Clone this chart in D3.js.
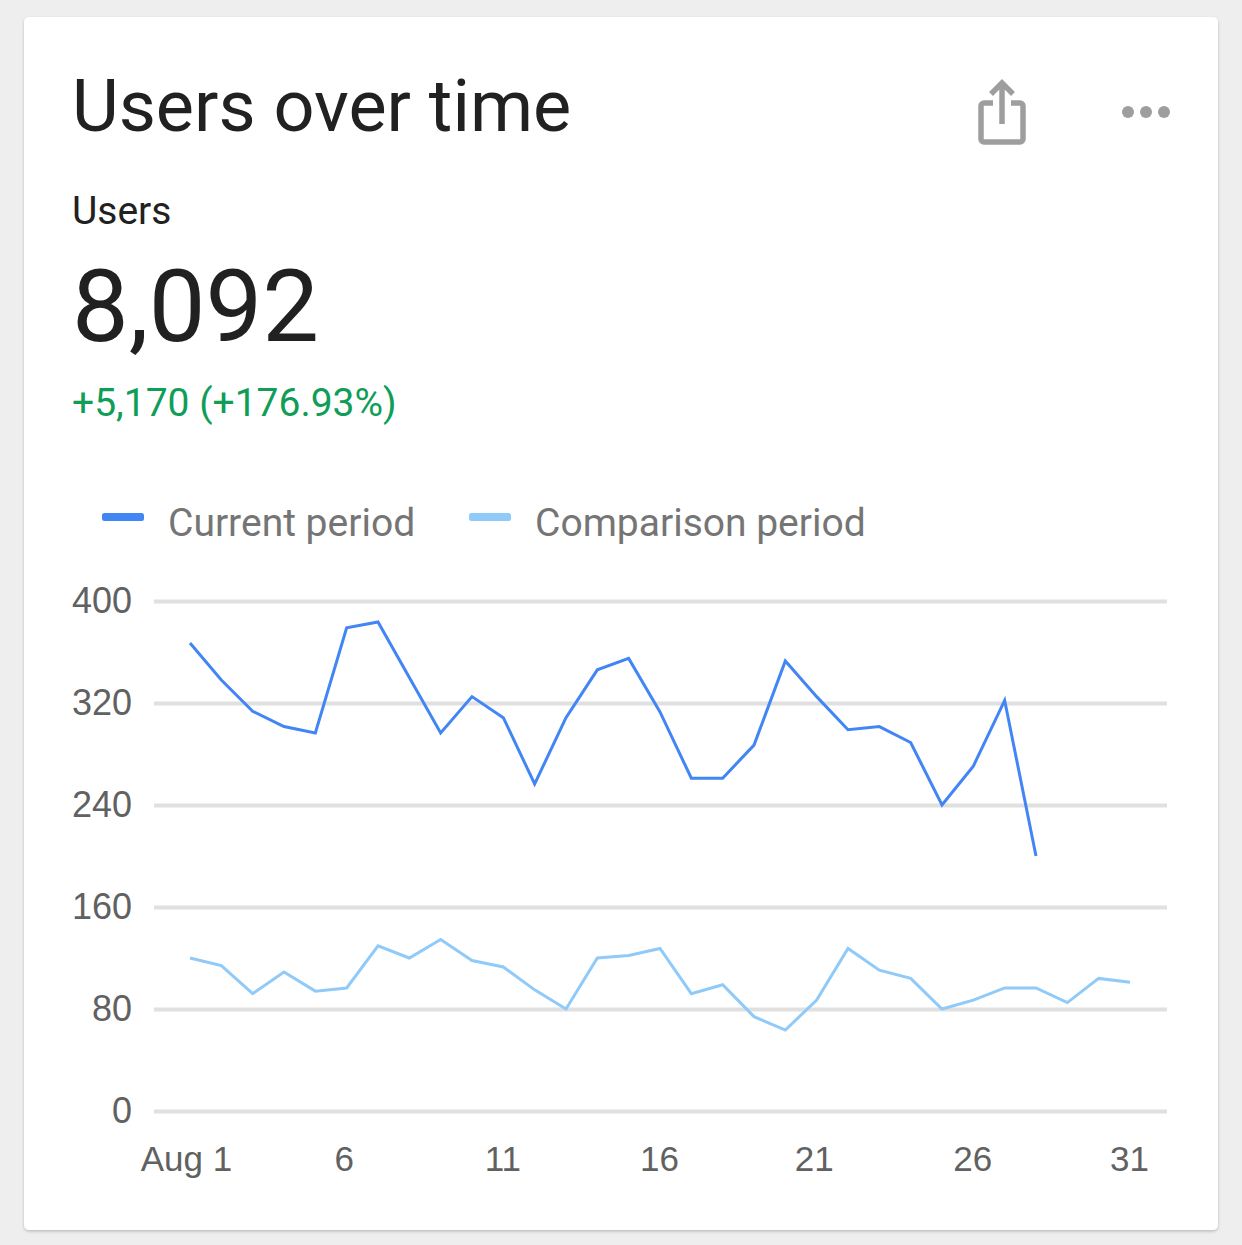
<!DOCTYPE html>
<html>
<head>
<meta charset="utf-8">
<script src="https://cdnjs.cloudflare.com/ajax/libs/d3/7.8.5/d3.min.js"></script>
<style>
  html, body { margin: 0; padding: 0; background: #eeeeee; }
  svg { display: block; font-family: Roboto, sans-serif; }
  .grid line { stroke: #e0e0e0; stroke-width: 4; }
  .tick text { fill: #616161; font-size: 36px; }
  .xaxis .tick text { font-size: 35px; }
  .domain { display: none; }
</style>
</head>
<body>
<div id="chart"></div>
<script>
var days = d3.range(1, 32);
var current = [367, 338, 313.5, 301.5, 296.5, 379, 383.5, 340, 296.5, 325, 308.5, 256.5, 308.5, 346, 355, 313, 261, 261, 287, 353, 325, 299, 301.5, 289, 240, 270.5, 322, 200];
var comparison = [120, 114, 92, 109, 94, 96.5, 129.5, 120, 134.5, 118, 113, 95, 80, 120, 122, 127.5, 92, 99, 74, 63.5, 87, 127.5, 110.5, 104, 80, 87, 96.5, 96.5, 85, 104, 101];
var yTicks = [0, 80, 160, 240, 320, 400];
var xTicks = [1, 6, 11, 16, 21, 26, 31];
var legendNames = ["Current period", "Comparison period"];
var colors = ["#4285f4", "#90caf9"];

var width = 1242, height = 1245;

var svg = d3.select("#chart").append("svg")
  .attr("width", width)
  .attr("height", height);

// card with soft shadow
var defs = svg.append("defs");
var shadow = defs.append("filter").attr("id", "shadow")
  .attr("x", "-5%").attr("y", "-5%").attr("width", "110%").attr("height", "110%");
shadow.append("feDropShadow")
  .attr("dx", 0).attr("dy", 1.5).attr("stdDeviation", 1.5)
  .attr("flood-color", "#000").attr("flood-opacity", 0.22);

svg.append("rect")
  .attr("x", 24).attr("y", 17)
  .attr("width", 1194).attr("height", 1213)
  .attr("rx", 5)
  .attr("fill", "#fff")
  .attr("filter", "url(#shadow)");

// header text
svg.append("text").attr("x", 72).attr("y", 131)
  .attr("font-size", 72).attr("fill", "#212121").text("Users over time");
svg.append("text").attr("x", 72).attr("y", 224)
  .attr("font-size", 39).attr("fill", "#212121").text("Users");
svg.append("text").attr("x", 72).attr("y", 341)
  .attr("font-size", 101).attr("fill", "#212121").text("8,092");
svg.append("text").attr("x", 72).attr("y", 416)
  .attr("font-size", 39).attr("fill", "#0f9d58").text("+5,170 (+176.93%)");

// share icon
var icon = svg.append("g").attr("fill", "none").attr("stroke", "#9e9e9e").attr("stroke-width", 5.5);
icon.append("path").attr("d", "M993 103H984a3 3 0 0 0 -3 3V139a3 3 0 0 0 3 3H1020a3 3 0 0 0 3 -3V106a3 3 0 0 0 -3 -3H1011");
icon.append("path").attr("d", "M1002 124V84M991 94L1002 83L1013 94");

// more icon
svg.append("g").attr("fill", "#9e9e9e")
  .selectAll("circle").data([1128, 1146, 1164]).enter().append("circle")
  .attr("cx", function(d) { return d; })
  .attr("cy", 112)
  .attr("r", 6);

// legend
var legendX = [102, 469];
var legend = svg.selectAll("g.legend")
  .data(legendNames)
  .enter().append("g")
  .attr("class", "legend")
  .attr("transform", function(d, i) { return "translate(" + legendX[i] + ",517)"; });
legend.append("rect")
  .attr("y", -4).attr("width", 42).attr("height", 8).attr("rx", 2.5)
  .attr("fill", function(d, i) { return colors[i]; });
legend.append("text")
  .attr("x", 66).attr("y", 19)
  .attr("font-size", 39).attr("fill", "#757575")
  .text(function(d) { return d; });

// scales
var x = d3.scaleLinear().domain([1, 31]).range([190, 1130]);
var y = d3.scaleLinear().domain([0, 400]).range([1111, 601]);

// y axis with gridlines
svg.append("g")
  .attr("class", "grid")
  .attr("transform", "translate(154,0)")
  .call(d3.axisLeft(y).tickValues(yTicks).tickSize(-1013).tickPadding(22).tickFormat(d3.format("d")));

// x axis, labels sit slightly left of their day
svg.append("g")
  .attr("class", "xaxis")
  .attr("transform", "translate(0,1111)")
  .call(d3.axisBottom(x).tickValues(xTicks).tickSize(0).tickPadding(35)
    .tickFormat(function(d) { return d === 1 ? "Aug 1" : d; }))
  .selectAll("text")
  .attr("dx", function(d) { return d === 1 ? -4 : d === 6 ? -3 : d === 21 ? -3 : -1; });

// series
var line = d3.line()
  .x(function(d, i) { return x(days[i]); })
  .y(function(d) { return y(d); });

[comparison, current].forEach(function(values) {
  svg.append("path")
    .datum(values)
    .attr("fill", "none")
    .attr("stroke", values === current ? colors[0] : colors[1])
    .attr("stroke-width", 3)
    .attr("d", line);
});
</script>
</body>
</html>
